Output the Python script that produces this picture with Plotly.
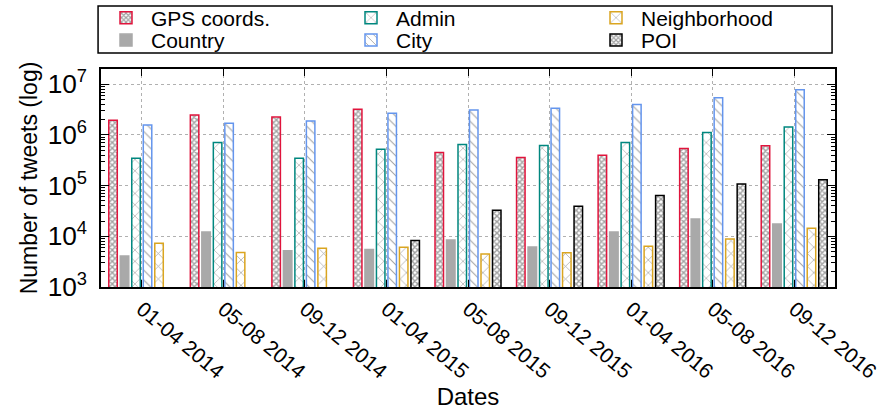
import plotly.graph_objects as go

dates = ["01-04 2014", "05-08 2014", "09-12 2014", "01-04 2015", "05-08 2015",
         "09-12 2015", "01-04 2016", "05-08 2016", "09-12 2016"]

gps_coords = [1.94e6, 2.47e6, 2.25e6, 3.2e6, 4.5e5, 3.6e5, 3.95e5, 5.4e5, 6.1e5]
country = [4.1e3, 1.22e4, 5.2e3, 5.5e3, 8.45e3, 6.15e3, 1.22e4, 2.19e4, 1.75e4]
admin = [3.45e5, 7.1e5, 3.45e5, 5.2e5, 6.5e5, 6.2e5, 7.1e5, 1.12e6, 1.43e6]
city = [1.57e6, 1.69e6, 1.88e6, 2.67e6, 3.1e6, 3.34e6, 4.0e6, 5.4e6, 7.8e6]
neighborhood = [7.3e3, 4.8e3, 5.8e3, 6.07e3, 4.5e3, 4.75e3, 6.35e3, 8.85e3, 1.44e4]
poi = [None, None, None, 8.3e3, 3.26e4, 3.9e4, 6.4e4, 1.08e5, 1.31e5]

FONT = "Liberation Sans"

# (name, values, colour, pattern, legend row)
series = [
    ("GPS coords.", gps_coords, "#e0143c", dict(shape="x", size=4, solidity=0.6, bgcolor="white"), "legend"),
    ("Country", country, "#a9a9a9", dict(shape=""), "legend2"),
    ("Admin", admin, "#00877f", dict(shape="x", size=8, solidity=0.15, bgcolor="white"), "legend"),
    ("City", city, "#6495ed", dict(shape="\\", size=7, solidity=0.15, bgcolor="white"), "legend2"),
    ("Neighborhood", neighborhood, "#daa520", dict(shape="x", size=9, solidity=0.15, bgcolor="white"), "legend"),
    ("POI", poi, "#000000", dict(shape="x", size=4, solidity=0.6, bgcolor="white"), "legend2"),
]

fig = go.Figure()
for name, vals, color, pattern, leg in series:
    fig.add_trace(go.Bar(
        x=dates, y=vals, name=name, legend=leg,
        marker=dict(color=color, pattern=pattern,
                    line=dict(color=color, width=1.5)),
    ))

legend_common = dict(
    orientation="h", x=0.0, xanchor="left", yanchor="middle",
    borderwidth=0, bgcolor="rgba(0,0,0,0)",
    entrywidth=190, entrywidthmode="pixels",
    font=dict(family=FONT, size=21), itemwidth=40,
)

fig.update_layout(
    width=885, height=414,
    margin=dict(l=101, r=50, t=69, b=127, autoexpand=False),
    paper_bgcolor="white", plot_bgcolor="white",
    font=dict(family=FONT, size=21, color="black"),
    barmode="group", bargap=0.154, bargroupgap=0.26,
    showlegend=True,
    legend=dict(legend_common, y=1.234),
    legend2=dict(legend_common, y=1.131),
    shapes=[dict(type="rect", xref="paper", yref="paper",
                 x0=-0.004, x1=0.996, y0=1.073, y1=1.289,
                 line=dict(color="black", width=1.5), fillcolor="rgba(0,0,0,0)")],
)

fig.update_xaxes(
    type="category", range=[-0.5, 8.5],
    tickangle=40, ticks="inside", ticklen=7, tickcolor="black",
    showline=True, linecolor="black", linewidth=1.5, mirror="ticks",
    showgrid=True, gridcolor="#b0b0b0", griddash="dot", gridwidth=1,
    tickfont=dict(family=FONT, size=21),
    title=dict(text="Dates", font=dict(family=FONT, size=24), standoff=6),
)

fig.update_yaxes(
    type="log", range=[3, 7.3], dtick=1, exponentformat="power",
    ticks="inside", ticklen=8, tickcolor="black", ticklabelstandoff=8,
    minor=dict(ticks="inside", ticklen=4, tickcolor="black", showgrid=False),
    showline=True, linecolor="black", linewidth=1.5, mirror="ticks",
    showgrid=True, gridcolor="#b0b0b0", griddash="dot", gridwidth=1,
    tickfont=dict(family=FONT, size=21),
    title=dict(text="Number of tweets (log)", font=dict(family=FONT, size=23), standoff=4),
)

fig.write_html("out.html", config={"displayModeBar": False},
               post_script="document.body.style.margin='0';")
